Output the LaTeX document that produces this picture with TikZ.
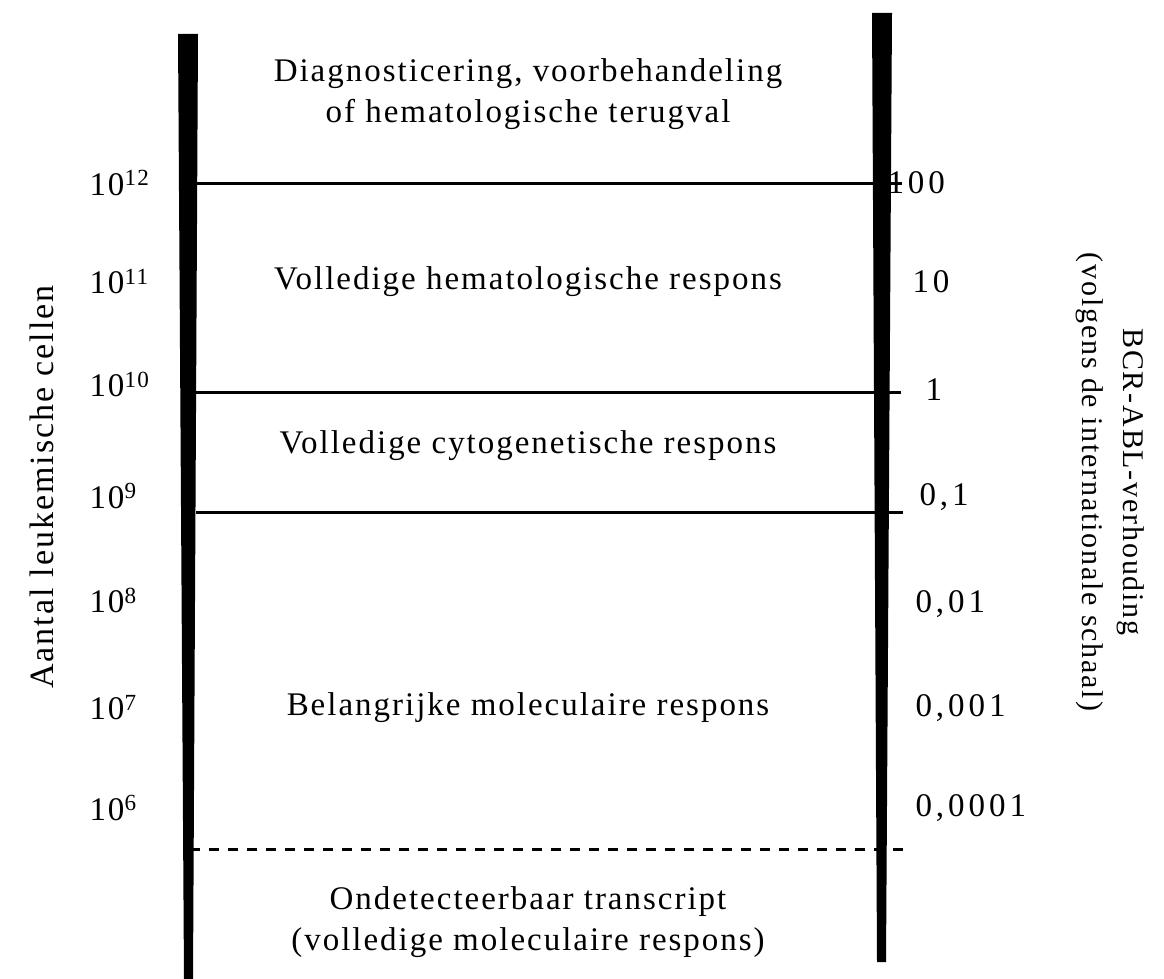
\documentclass[tikz,border=0pt]{standalone}
\usepackage{fontspec}
\setmainfont{Liberation Serif}[LetterSpace=6]
\usepackage{tikz}
\usetikzlibrary{positioning}
\tikzset{
x=1pt, y=-1pt, % one unit is one pixel of the page
bar/.style={fill=black, draw=none}, % the two thick uprights
level/.style={line width=3pt}, % the solid level lines
undetect/.style={line width=3pt, dash pattern=on 10pt off 9pt}, % the dashed line
region/.style={align=center, font=\fontsize{33}{41}\selectfont}, % text between the lines
cellcount/.style={anchor=west, font=\fontsize{33}{38}\selectfont}, % left axis values
ratiovalue/.style={anchor=west, font=\fontsize{33}{38}\selectfont\addfontfeature{LetterSpace=12}}, % right axis values
axistitle/.style={align=center, font=\fontsize{30}{41}\selectfont}, % the axis titles
}
\begin{document}
\begin{tikzpicture}
  \useasboundingbox (0,0) rectangle (1164,979);

  % uprights
  \fill[bar] (178,34) -- (198,34) -- (193,979) -- (184,979) -- cycle;
  \fill[bar] (872,13) -- (892,13) -- (886,962) -- (877,962) -- cycle;

  \coordinate (l1) at (196,183);  \coordinate (r1) at (902,183);
  \coordinate (l2) at (196,392);  \coordinate (r2) at (901,392);
  \coordinate (l3) at (196,512);  \coordinate (r3) at (903,512);
  \coordinate (l4) at (190,849);  \coordinate (r4) at (905,849);

  \draw[level] (l1) -- (r1);
  \draw[level] (l2) -- (r2);
  \draw[level] (l3) -- (r3);
  \draw[undetect] (l4) -- (r4);

  % regions
  \node[region] (diag) at (528,94) {Diagnosticering, voorbehandeling\\of hematologische terugval};
  \node[region] (hema) at (528,282) {Volledige hematologische respons};
  \node[region] (cyto) at (528,446) {Volledige cytogenetische respons};
  \node[region] (mole) at (528,708) {Belangrijke moleculaire respons};
  \node[region] (undet) at (528,922) {Ondetecteerbaar transcript\\(volledige moleculaire respons)};

  % left axis
  \node[cellcount] (c12) at (86,183) {10\textsuperscript{12}};
  \node[cellcount] (c11) at (86,282) {10\textsuperscript{11}};
  \node[cellcount] (c10) at (86,384) {10\textsuperscript{10}};
  \node[cellcount] (c9) at (86,496) {10\textsuperscript{9}};
  \node[cellcount] (c8) at (86,600) {10\textsuperscript{8}};
  \node[cellcount] (c7) at (86,708) {10\textsuperscript{7}};
  \node[cellcount] (c6) at (86,808) {10\textsuperscript{6}};

  % right axis
  \node[ratiovalue] (p100) at (884,183) {100};
  \node[ratiovalue] (p10) at (909,282) {10};
  \node[ratiovalue] (p1) at (922,390) {1};
  \node[ratiovalue] (p01) at (916,497) {0,1};
  \node[ratiovalue] (p001) at (912,604) {0,01};
  \node[ratiovalue] (p0001) at (912,708) {0,001};
  \node[ratiovalue] (p00001) at (912,808) {0,0001};

  % axis titles
  \node[axistitle, rotate=90, font=\fontsize{34}{41}\selectfont] (ytitle) at (42,487) {Aantal leukemische cellen};
  \node[axistitle, rotate=-90] (ztitle) at (1110,482) {BCR-ABL-verhouding\\(volgens de internationale schaal)};
\end{tikzpicture}
\end{document}
